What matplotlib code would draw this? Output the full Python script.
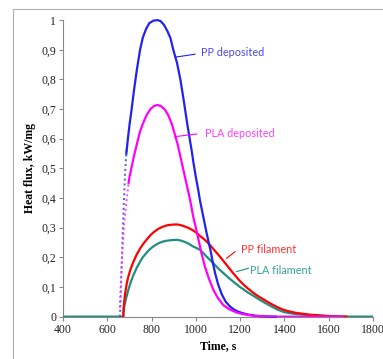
import matplotlib.pyplot as plt
from matplotlib.lines import Line2D
from matplotlib.ticker import FuncFormatter

# PP deposited (blue): steep dotted rise, then solid curve
pp_dep_rise_t = [657, 660, 664, 668, 672, 676, 680, 684, 688]
pp_dep_rise_v = [0.0, 0.06, 0.15, 0.24, 0.33, 0.41, 0.48, 0.53, 0.57]
pp_dep_t = [686, 693, 700, 710, 720, 733, 748, 760, 775, 790, 808, 826, 840, 855, 870,
            885, 898, 915, 930, 945, 961, 971, 981, 990, 1000, 1010, 1019, 1034, 1049,
            1058, 1067, 1077, 1087, 1100, 1117, 1135, 1154, 1172, 1190, 1210, 1230,
            1250, 1270, 1300, 1360]
pp_dep_v = [0.55, 0.60, 0.645, 0.70, 0.76, 0.83, 0.90, 0.94, 0.97, 0.99, 0.998, 1.0,
            0.997, 0.985, 0.965, 0.94, 0.90, 0.855, 0.80, 0.73, 0.65, 0.605, 0.56, 0.515,
            0.47, 0.43, 0.39, 0.335, 0.28, 0.25, 0.22, 0.18, 0.146, 0.11, 0.075, 0.05,
            0.034, 0.024, 0.017, 0.012, 0.008, 0.005, 0.003, 0.001, 0.0]

# PLA deposited (magenta)
pla_dep_rise_t = [656, 660, 664, 668, 673, 678, 684, 690, 696]
pla_dep_rise_v = [0.02, 0.09, 0.16, 0.22, 0.28, 0.33, 0.37, 0.41, 0.45]
pla_dep_t = [696, 700, 710, 720, 733, 748, 763, 778, 795, 810, 826, 842, 858, 875, 891,
             905, 918, 930, 945, 960, 974, 990, 1000, 1011, 1025, 1041, 1058, 1079,
             1100, 1124, 1150, 1184, 1210, 1240, 1280, 1350, 1660]
pla_dep_v = [0.45, 0.47, 0.505, 0.54, 0.58, 0.625, 0.655, 0.68, 0.70, 0.71, 0.714,
             0.71, 0.70, 0.68, 0.65, 0.615, 0.58, 0.54, 0.49, 0.44, 0.393, 0.33, 0.30,
             0.262, 0.215, 0.168, 0.13, 0.09, 0.062, 0.039, 0.025, 0.014, 0.009, 0.005,
             0.002, 0.0, 0.0]

# PP filament (red)
pp_fil_t = [672, 674, 677, 681, 688, 695, 705, 718, 733, 750, 765, 778, 795, 810, 830,
            850, 870, 890, 913, 930, 950, 970, 989, 1004, 1019, 1034, 1049, 1064, 1079,
            1094, 1109, 1124, 1139, 1154, 1169, 1184, 1199, 1215, 1230, 1245, 1260,
            1275, 1290, 1312, 1335, 1365, 1395, 1425, 1450, 1480, 1510, 1546, 1600, 1680]
pp_fil_v = [0.0, 0.03, 0.055, 0.08, 0.112, 0.135, 0.16, 0.185, 0.21, 0.232, 0.248,
            0.26, 0.275, 0.285, 0.296, 0.303, 0.308, 0.31, 0.311, 0.309, 0.304, 0.298,
            0.29, 0.282, 0.272, 0.263, 0.253, 0.241, 0.228, 0.215, 0.202, 0.188, 0.174,
            0.16, 0.146, 0.133, 0.12, 0.108, 0.098, 0.089, 0.08, 0.072, 0.065, 0.055,
            0.045, 0.033, 0.023, 0.017, 0.013, 0.01, 0.007, 0.005, 0.002, 0.0]

# PLA filament (teal)
pla_fil_t = [400, 672, 674, 677, 681, 688, 695, 705, 718, 733, 748, 760, 778, 793, 810,
             830, 850, 868, 890, 913, 930, 950, 970, 989, 1004, 1019, 1034, 1049, 1064,
             1079, 1094, 1109, 1124, 1139, 1154, 1169, 1184, 1199, 1215, 1230, 1245,
             1260, 1275, 1290, 1315, 1340, 1365, 1395, 1420, 1450, 1480, 1516, 1560,
             1600, 1650, 1800]
pla_fil_v = [0.0, 0.0, 0.02, 0.035, 0.05, 0.07, 0.09, 0.115, 0.14, 0.165, 0.185, 0.2,
             0.216, 0.228, 0.238, 0.247, 0.253, 0.256, 0.258, 0.259, 0.257, 0.252, 0.245,
             0.236, 0.231, 0.225, 0.214, 0.202, 0.191, 0.18, 0.168, 0.157, 0.147, 0.137,
             0.127, 0.118, 0.109, 0.1, 0.092, 0.084, 0.077, 0.07, 0.063, 0.056, 0.045,
             0.035, 0.025, 0.016, 0.012, 0.009, 0.007, 0.005, 0.003, 0.001, 0.0, 0.0]

x_ticks = [400, 600, 800, 1000, 1200, 1400, 1600, 1800]
y_ticks = [0, 0.1, 0.2, 0.3, 0.4, 0.5, 0.6, 0.7, 0.8, 0.9, 1.0]

fig = plt.figure(figsize=(3.83, 3.59), dpi=100)
ax = fig.add_axes([0.1645, 0.118, 0.8095, 0.826])

blue, magenta, red, teal = '#2222ee', '#ff00ff', '#ff0000', '#1f8f80'

ax.plot(pla_fil_t, pla_fil_v, color=teal, lw=1.6, zorder=3)
ax.plot(pp_fil_t, pp_fil_v, color=red, lw=1.6, zorder=3)
ax.plot(pp_dep_rise_t, pp_dep_rise_v, color='#5555f0', lw=1.4, ls=(0, (1, 1.5)), zorder=4)
ax.plot(pla_dep_rise_t, pla_dep_rise_v, color='#ff44ff', lw=1.4, ls=(1, (1, 1.5)), zorder=4)
ax.plot(pp_dep_t, pp_dep_v, color=blue, lw=1.6, zorder=4, clip_on=False)
ax.plot(pla_dep_t, pla_dep_v, color=magenta, lw=1.6, zorder=4)

ann_font = dict(family='Lato', fontsize=7.8)
labels = [
    ('PP deposited', (906, 0.875), (996, 0.885), (1023, 0.892), '#4a4ae8', blue),
    ('PLA deposited', (906, 0.607), (1004, 0.616), (1041, 0.619), '#ff40ff', magenta),
    ('PP filament', (1139, 0.197), (1177, 0.219), (1204, 0.225), '#ff3030', red),
    ('PLA filament', (1184, 0.152), (1237, 0.163), (1245, 0.157), '#35a596', teal),
]
for txt, p0, p1, ptxt, tc, lc in labels:
    ax.plot([p0[0], p1[0]], [p0[1], p1[1]], color=lc, lw=0.8, zorder=5)
    ax.text(ptxt[0], ptxt[1], txt, color=tc, va='center', ha='left', **ann_font)

ax.set_xlim(400, 1800)
ax.set_ylim(0, 1)
ax.set_xticks(x_ticks)
ax.set_yticks(y_ticks)
ax.yaxis.set_major_formatter(FuncFormatter(lambda v, p: ('%g' % round(v, 1)).replace('.', ',')))

for s in ['top', 'right']:
    ax.spines[s].set_visible(False)
for s in ['left', 'bottom']:
    ax.spines[s].set_color('#888888')
    ax.spines[s].set_linewidth(0.8)
ax.tick_params(direction='out', length=3, width=0.8, color='#888888',
               labelsize=8.5, pad=2)
for lab in ax.get_xticklabels() + ax.get_yticklabels():
    lab.set_family('Liberation Serif')
    lab.set_color('#222222')

ax.set_xlabel('Time, s', family='Liberation Serif', fontweight='bold', fontsize=8.5,
              labelpad=3)
ax.set_ylabel('Heat flux, kW/mg', family='Liberation Serif', fontweight='bold',
              fontsize=8.5, labelpad=4)

# outer chart frame (cropped at right and bottom)
W, H = 383, 359
fig.add_artist(Line2D([12.5 / W, 12.5 / W], [0, 1 - 9 / H], color='#b0b0b0', lw=0.8,
                      transform=fig.transFigure))
fig.add_artist(Line2D([12.5 / W, 1], [1 - 9 / H, 1 - 9 / H], color='#b0b0b0', lw=0.8,
                      transform=fig.transFigure))

fig.savefig('out.png', dpi=100)
